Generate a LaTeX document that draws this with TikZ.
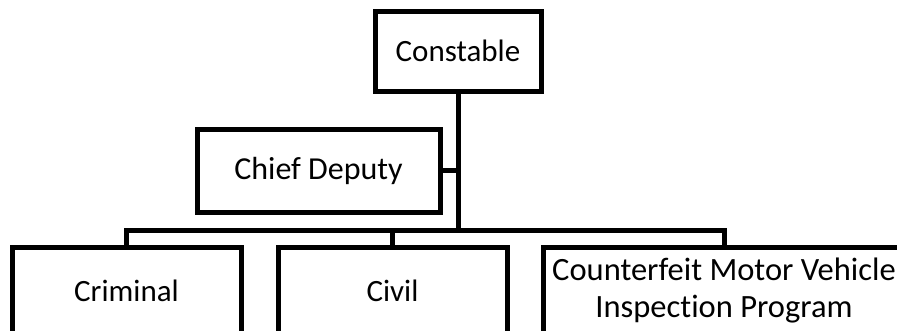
\documentclass[tikz,border=0pt]{standalone}
\usepackage{fontspec}
\setmainfont[Ligatures=NoCommon]{Carlito}

\tikzset{
  unit/.style={draw, line width=5pt, inner sep=0pt, align=center,
    minimum width=229pt, minimum height=88pt,
    font=\fontsize{31}{36}\selectfont},
  wire/.style={line width=5pt}
}

\begin{document}
\begin{tikzpicture}[x=1pt,y=-1pt]
  \useasboundingbox (0,0) rectangle (897,330);
  \clip (0,0) rectangle (897,330);

  % boxes
  \node[unit, minimum width=166pt, minimum height=80pt] (const) at (458,51) {Constable};
  \node[unit, minimum width=243pt, minimum height=83pt,
        font=\fontsize{32}{38}\selectfont] (chief) at (318.5,170.5) {Chief Deputy};
  \node[unit] (crim) at (126.5,291) {Criminal};
  \node[unit] (civil) at (392.5,291) {Civil};
  \node[unit, minimum width=362pt, font=\fontsize{32.5}{37}\selectfont] (cmvip) at (724,291)
    {Counterfeit Motor Vehicle\\Inspection Program};

  % lines
  \coordinate (hub) at (const.south |- 0,230);
  \draw[wire] (const) -- (hub);
  \draw[wire] (chief.east) -- (chief.east -| hub);
  \foreach \n in {crim,civil,cmvip}
    \draw[wire] (\n.north) |- (hub);
\end{tikzpicture}
\end{document}
